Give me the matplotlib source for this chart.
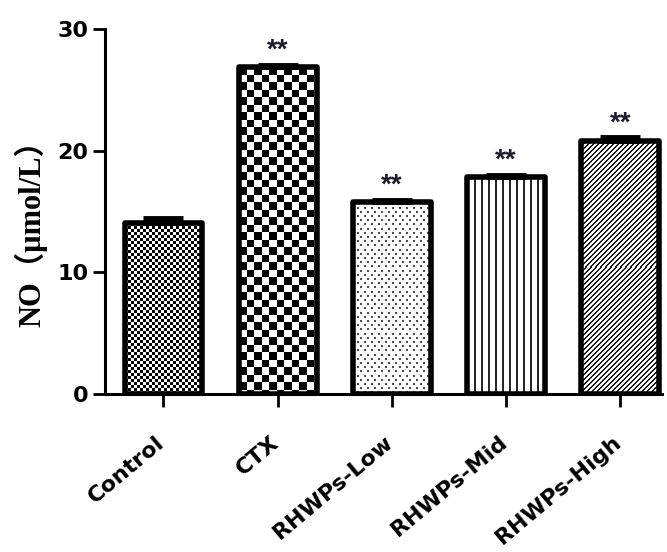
import numpy as np
import matplotlib
matplotlib.use("Agg")
import matplotlib.pyplot as plt
from matplotlib.transforms import ScaledTranslation

# NO level per group (mean and upper SEM), significance marks
groups = ["Control", "CTX", "RHWPs-Low", "RHWPs-Mid", "RHWPs-High"]
no_mean = [14.05, 26.87, 15.78, 17.83, 20.83]
no_sem = [0.40, 0.20, 0.18, 0.17, 0.28]
marks = ["", "**", "**", "**", "**"]
patterns = ["checker_fine", "checker_coarse", "dots", "vlines", "diag"]
yticks = [0, 10, 20, 30]

W, H, DPI = 667, 552, 100
fig = plt.figure(figsize=(W / DPI, H / DPI), dpi=DPI)
ax = fig.add_axes([105 / W, (H - 394) / H, (662 - 105) / W, (394 - 29) / H])

x = np.arange(len(groups))
XLIM = (-0.512, 4.365)
YLIM = (0, 30)
ax.set_xlim(*XLIM)
ax.set_ylim(*YLIM)


def texture(kind, w, h):
    """Greyscale fill pattern sized in device pixels."""
    r, c = np.mgrid[0:h, 0:w]
    img = np.ones((h, w))
    if kind == "checker_fine":
        img[((r // 3) + (c // 3)) % 2 == 0] = 0.0
    elif kind == "checker_coarse":
        img[((np.floor(r / 7.5) + np.floor(c / 7.5)) % 2) == 0] = 0.0
    elif kind == "dots":
        row = np.floor(r / 4.2).astype(int)
        off = np.where(row % 2 == 0, 0.0, 3.5)
        in_row = (r - row * 4.2) < 2
        in_col = ((c + off) % 7) < 2
        img[in_row & in_col] = 0.3
    elif kind == "vlines":
        img[(c % 7) < 2] = 0.15
    elif kind == "diag":
        img[((r + c) % 5) < 2] = 0.1
    return img


width = 0.68
bars = ax.bar(x, no_mean, width=width, facecolor="none", edgecolor="black",
              linewidth=4, zorder=3)
for b in bars:
    b.set_joinstyle("round")

for b, kind in zip(bars, patterns):
    x0, x1 = b.get_x(), b.get_x() + b.get_width()
    y0, y1 = 0, b.get_height()
    (px0, py0), (px1, py1) = ax.transData.transform([(x0, y0), (x1, y1)])
    w_px = max(int(round(abs(px1 - px0))), 1)
    h_px = max(int(round(abs(py1 - py0))), 1)
    im = ax.imshow(texture(kind, w_px, h_px), cmap="gray", vmin=0, vmax=1,
                   extent=(x0, x1, y0, y1), interpolation="nearest",
                   aspect="auto", zorder=2)
    im.set_clip_path(b)

ax.set_xlim(*XLIM)
ax.set_ylim(*YLIM)

ax.errorbar(x, no_mean, yerr=[np.zeros(len(x)), no_sem], fmt="none",
            ecolor="black", elinewidth=3.5, capsize=14.5, capthick=3.5,
            zorder=4)

for xi, m, e, t in zip(x, no_mean, no_sem, marks):
    if t:
        ax.annotate(t, (xi, m + e), xytext=(0, 5), textcoords="offset points",
                    ha="center", va="baseline", fontsize=20,
                    fontweight="bold", family="Liberation Sans",
                    color="#1c1c2c", zorder=5)

for s in ("top", "right"):
    ax.spines[s].set_visible(False)
for s in ("left", "bottom"):
    ax.spines[s].set_linewidth(2.2)

ax.set_yticks(yticks)
ax.set_yticklabels([str(v) for v in yticks])
ax.tick_params(axis="y", length=9, width=2, pad=3, labelsize=16)
ax.set_xticks(x)
ax.set_xticklabels(groups, rotation=40, ha="right", va="top",
                   rotation_mode="anchor")
ax.tick_params(axis="x", length=9, width=2, pad=4, labelsize=16)

for lab in ax.get_yticklabels() + ax.get_xticklabels():
    lab.set_fontweight("bold")
    lab.set_family("DejaVu Sans")
shift = ScaledTranslation(-8 / DPI, -20 / DPI, fig.dpi_scale_trans)
for lab in ax.get_xticklabels():
    lab.set_transform(lab.get_transform() + shift)

fig.text(31 / W, 1 - 226 / H, "NO（μmol/L）", rotation=90, ha="center",
         va="center", fontsize=22, fontweight="bold",
         family=["Liberation Serif", "Noto Sans CJK SC"])

fig.savefig("out.png", dpi=DPI)
